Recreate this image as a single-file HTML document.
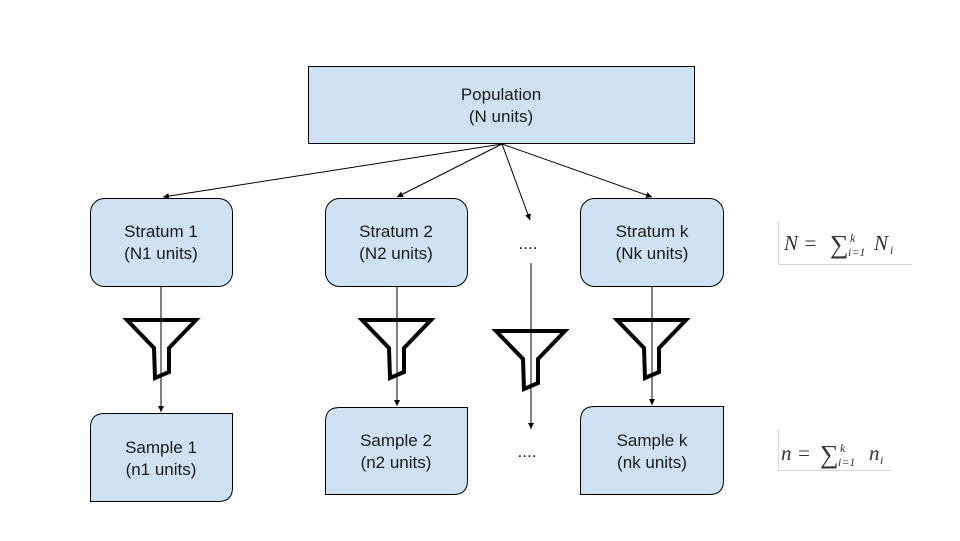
<!DOCTYPE html>
<html><head><meta charset="utf-8"><style>
html,body{margin:0;padding:0;background:#fff;}
svg{display:block;}
.t{font-family:"Liberation Sans",Arial,sans-serif;font-size:17px;fill:#1a1a1a;}
.m{font-family:"Liberation Serif",serif;font-style:italic;fill:#333;}
</style></head><body>
<svg width="960" height="541" viewBox="0 0 960 541" xmlns="http://www.w3.org/2000/svg">
<defs><marker id="a" markerWidth="8" markerHeight="8" refX="6" refY="3" orient="auto" markerUnits="userSpaceOnUse"><path d="M0,0 L6,3 L0,6 z" fill="#000"/></marker></defs>
<rect x="308.5" y="66.5" width="386" height="77" fill="#cfe2f3" stroke="#000"/>
<g class="t" text-anchor="middle">
<text x="501" y="100">Population</text>
<text x="501" y="122">(N units)</text>
</g>
<g stroke="#000" stroke-width="1" marker-end="url(#a)">
<line x1="502" y1="144" x2="163" y2="197"/>
<line x1="502" y1="144" x2="397" y2="197"/>
<line x1="502" y1="144" x2="530" y2="220"/>
<line x1="502" y1="144" x2="652" y2="197"/>
<line x1="161" y1="286" x2="161" y2="412"/>
<line x1="397" y1="286" x2="397" y2="406"/>
<line x1="652" y1="286" x2="652" y2="405"/>
<line x1="531" y1="263" x2="531" y2="429"/>
</g>
<g fill="#cfe2f3" stroke="#000">
<rect x="90.5" y="198.5" width="142" height="88" rx="14"/>
<rect x="325.5" y="198.5" width="142" height="88" rx="14"/>
<rect x="580.5" y="198.5" width="143" height="88" rx="14"/>
<path d="M104.5,413.5 H232.5 V487.5 Q232.5,501.5 218.5,501.5 H90.5 V427.5 Q90.5,413.5 104.5,413.5 Z"/>
<path d="M339.5,407.5 H467.5 V480.5 Q467.5,494.5 453.5,494.5 H325.5 V421.5 Q325.5,407.5 339.5,407.5 Z"/>
<path d="M594.5,406.5 H723.5 V480.5 Q723.5,494.5 709.5,494.5 H580.5 V420.5 Q580.5,406.5 594.5,406.5 Z"/>
</g>
<g class="t" text-anchor="middle">
<text x="161" y="237">Stratum 1</text><text x="161" y="259">(N1 units)</text>
<text x="396" y="237">Stratum 2</text><text x="396" y="259">(N2 units)</text>
<text x="652" y="237">Stratum k</text><text x="652" y="259">(Nk units)</text>
<text x="161" y="453">Sample 1</text><text x="161" y="475">(n1 units)</text>
<text x="396" y="446">Sample 2</text><text x="396" y="468">(n2 units)</text>
<text x="652" y="446">Sample k</text><text x="652" y="468">(nk units)</text>
<text x="528" y="249">....</text>
<text x="527" y="457">....</text>
</g>
<g fill="none" stroke="#000" stroke-width="4" stroke-linejoin="miter">
<path d="M127,320 H196 L169,348 L169,372 L155,378 L154,348 Z"/>
<path d="M362,320 H431 L404,348 L404,372 L390,378 L389,348 Z"/>
<path d="M496,331 H565 L538,359 L538,383 L524,389 L523,359 Z"/>
<path d="M617,320 H686 L659,348 L659,372 L645,378 L644,348 Z"/>
</g>
<path d="M778.5,222 V264.5 H912" fill="none" stroke="#d0d8e0"/>
<path d="M778.5,430 V470.5 H892" fill="none" stroke="#d0d8e0"/>
<text class="m" x="784" y="250" style="font-size:21px">N =</text>
<text x="830" y="253" style="font-family:'Liberation Serif',serif;font-size:26px;fill:#333">∑</text>
<text class="m" x="850" y="242" style="font-size:12px">k</text>
<text class="m" x="848" y="256" style="font-size:12px">i=1</text>
<text class="m" x="874" y="250" style="font-size:21px">N</text>
<text class="m" x="890" y="254" style="font-size:12px">i</text>
<text class="m" x="781" y="460" style="font-size:21px">n =</text>
<text x="820" y="463" style="font-family:'Liberation Serif',serif;font-size:26px;fill:#333">∑</text>
<text class="m" x="840" y="452" style="font-size:12px">k</text>
<text class="m" x="838" y="466" style="font-size:12px">i=1</text>
<text class="m" x="869" y="460" style="font-size:21px">n</text>
<text class="m" x="880" y="464" style="font-size:12px">i</text>
</svg>
</body></html>
